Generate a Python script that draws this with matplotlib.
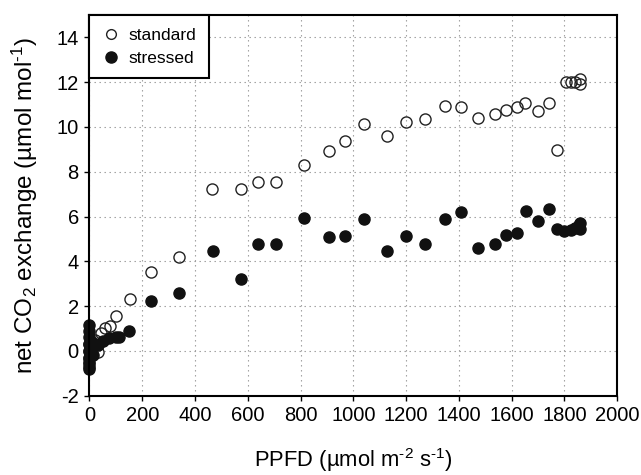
import matplotlib
matplotlib.use("Agg")
import matplotlib.pyplot as plt
from matplotlib.lines import Line2D

plt.rcParams['font.family'] = ['Liberation Sans', 'DejaVu Sans']
plt.rcParams['mathtext.fontset'] = 'custom'
plt.rcParams['mathtext.rm'] = 'Liberation Sans'
plt.rcParams['mathtext.it'] = 'Liberation Sans:italic'
plt.rcParams['mathtext.bf'] = 'Liberation Sans:bold'

# PPFD (x) and net CO2 exchange (y)
standard_x = [0, 0, 0, 0, 5, 10, 20, 31, 45, 60, 78, 100, 153, 235, 338, 466, 573, 640,
              706, 812, 906, 968, 1040, 1129, 1200, 1271, 1349, 1408, 1472, 1535, 1577,
              1621, 1652, 1698, 1741, 1770, 1804, 1823, 1840, 1859, 1860]
standard_y = [-0.6, -0.3, 0.0, 0.3, 0.1, 0.4, 0.5, -0.05, 0.8, 1.0, 1.12, 1.58, 2.33, 3.53,
              4.18, 7.24, 7.24, 7.55, 7.56, 8.28, 8.92, 9.37, 10.15, 9.58, 10.21, 10.35,
              10.93, 10.9, 10.38, 10.56, 10.74, 10.9, 11.06, 10.73, 11.06, 8.95, 12.02,
              12.02, 12.02, 12.14, 11.93]

stressed_x = [0, 0, 0, 0, 0, 0, 0, 0, 0, 2, 5, 8, 12, 20, 31, 50, 75, 100, 113, 150, 235,
              338, 467, 573, 640, 706, 812, 906, 968, 1040, 1129, 1200, 1271, 1349, 1408,
              1472, 1535, 1577, 1621, 1653, 1698, 1741, 1770, 1800, 1823, 1840, 1855,
              1858, 1860]
stressed_y = [1.15, 0.9, 0.6, 0.3, 0.0, -0.3, -0.5, -0.7, -0.8, 0.2, 0.4, 0.1, -0.2, 0.3,
              0.27, 0.42, 0.57, 0.62, 0.6, 0.91, 2.24, 2.6, 4.45, 3.22, 4.76, 4.76, 5.92,
              5.07, 5.14, 5.87, 4.46, 5.11, 4.77, 5.9, 6.18, 4.6, 4.76, 5.17, 5.27, 6.24,
              5.81, 6.33, 5.43, 5.36, 5.4, 5.5, 5.62, 5.72, 5.45]

x_ticks = [0, 200, 400, 600, 800, 1000, 1200, 1400, 1600, 1800, 2000]
y_ticks = [-2, 0, 2, 4, 6, 8, 10, 12, 14]
series_labels = ['standard', 'stressed']

fig = plt.figure(figsize=(6.41, 4.75), dpi=100)
ax = fig.add_axes([0.1395, 0.167, 0.8235, 0.8015])

ax.set_xlim(0, 2000)
ax.set_ylim(-2, 15)
ax.set_xticks(x_ticks)
ax.set_yticks(y_ticks)
ax.set_xticklabels([str(t) for t in x_ticks])
ax.set_yticklabels([str(t) for t in y_ticks])

ax.grid(True, color='#9a9a9a', linestyle=(0, (1.25, 3.25)), linewidth=0.8, zorder=0)
ax.set_axisbelow(True)

ax.plot(standard_x, standard_y, linestyle='none', marker='o', markersize=8,
        markerfacecolor='none', markeredgecolor='#222222', markeredgewidth=1.0,
        zorder=3, clip_on=False)
ax.plot(stressed_x, stressed_y, linestyle='none', marker='o', markersize=8,
        markerfacecolor='#111111', markeredgecolor='#111111', markeredgewidth=1.0,
        zorder=4, clip_on=False)

for s in ax.spines.values():
    s.set_linewidth(1.5)
    s.set_color('black')
    s.set_zorder(5)

ax.tick_params(axis='both', direction='out', length=3.6, width=1.0, labelsize=14.5,
               colors='black', pad=4)

xl_fancy = 'PPFD (µmol m$^{\\text{-2}}$ s$^{\\text{-1}}$)'
yl_fancy = 'net CO$_2$ exchange (µmol mol$^{\\text{-1}}$)'
xl_plain = 'PPFD (µmol m$^{-2}$ s$^{-1}$)'
yl_plain = 'net CO$_2$ exchange (µmol mol$^{-1}$)'

xlab = ax.set_xlabel(xl_fancy, fontsize=15.8, labelpad=15)
ylab = ax.set_ylabel(yl_fancy, fontsize=17.5, labelpad=12)
try:
    fig.canvas.draw()
except Exception:
    xlab.set_text(xl_plain)
    ylab.set_text(yl_plain)

handles = [
    Line2D([], [], linestyle='none', marker='o', markersize=7, markerfacecolor='white',
           markeredgecolor='#222222', markeredgewidth=1.0),
    Line2D([], [], linestyle='none', marker='o', markersize=8, markerfacecolor='#111111',
           markeredgecolor='#111111'),
]
leg = ax.legend(handles, series_labels, loc='upper left', borderaxespad=0,
                fancybox=False, framealpha=1, edgecolor='black', fontsize=12.5,
                handlelength=1.1, handletextpad=0.45, borderpad=0.72, labelspacing=0.45)
leg.get_frame().set_linewidth(1.5)
leg.set_zorder(6)

fig.savefig('out.png', dpi=100)
